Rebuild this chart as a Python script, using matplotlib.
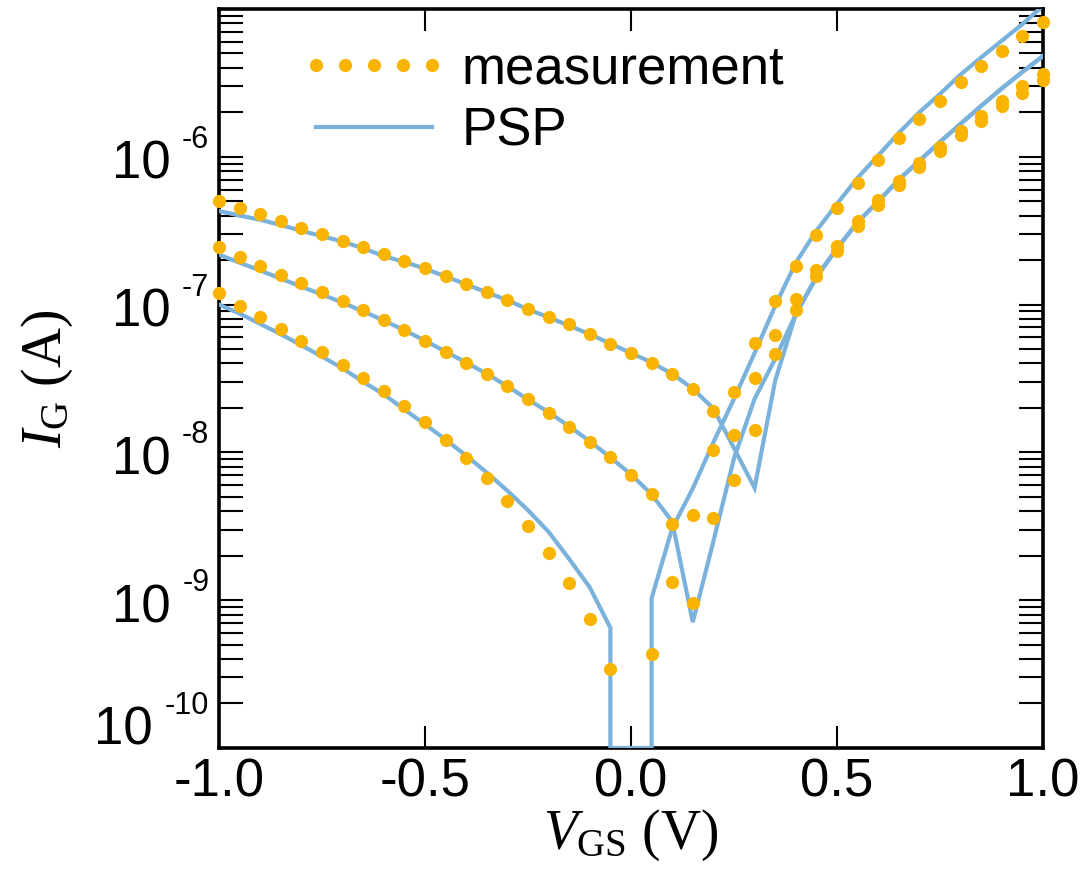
import numpy as np
import matplotlib
matplotlib.use('Agg')
import matplotlib.pyplot as plt
from matplotlib.ticker import MultipleLocator, FormatStrFormatter, LogLocator, NullFormatter
from matplotlib.legend_handler import HandlerLine2D

plt.rcParams['font.family'] = ['Liberation Sans', 'DejaVu Sans']
plt.rcParams['axes.unicode_minus'] = False
plt.rcParams['mathtext.fontset'] = 'custom'
plt.rcParams['mathtext.rm'] = 'Liberation Serif'
plt.rcParams['mathtext.it'] = 'Liberation Serif:italic'

# gate voltage sweep (V)
vgs = [-1.00, -0.95, -0.90, -0.85, -0.80, -0.75, -0.70, -0.65, -0.60, -0.55,
       -0.50, -0.45, -0.40, -0.35, -0.30, -0.25, -0.20, -0.15, -0.10, -0.05,
       0.00, 0.05, 0.10, 0.15, 0.20, 0.25, 0.30, 0.35, 0.40, 0.45,
       0.50, 0.55, 0.60, 0.65, 0.70, 0.75, 0.80, 0.85, 0.90, 0.95, 1.00]

# measured |I_G| (A), three bias conditions
meas_a = [5.0e-7, 4.5e-7, 4.1e-7, 3.7e-7, 3.3e-7, 3.0e-7, 2.7e-7, 2.45e-7, 2.2e-7, 1.97e-7,
          1.76e-7, 1.56e-7, 1.37e-7, 1.22e-7, 1.07e-7, 9.4e-8, 8.3e-8, 7.4e-8, 6.3e-8, 5.4e-8,
          4.7e-8, 4.0e-8, 3.4e-8, 2.7e-8, 1.9e-8, 6.5e-9, 1.42e-8, 4.6e-8, 9.2e-8, 1.55e-7,
          2.3e-7, 3.4e-7, 4.7e-7, 6.4e-7, 8.5e-7, 1.1e-6, 1.4e-6, 1.75e-6, 2.2e-6, 2.7e-6, 3.3e-6]
meas_b = [2.44e-7, 2.1e-7, 1.82e-7, 1.59e-7, 1.39e-7, 1.21e-7, 1.05e-7, 9.2e-8, 7.9e-8, 6.7e-8,
          5.7e-8, 4.8e-8, 4.0e-8, 3.4e-8, 2.8e-8, 2.3e-8, 1.84e-8, 1.48e-8, 1.17e-8, 9.3e-9,
          7.0e-9, 5.2e-9, 3.3e-9, 9.5e-10, 3.6e-9, 1.32e-8, 3.2e-8, 6.2e-8, 1.09e-7, 1.71e-7,
          2.5e-7, 3.65e-7, 5.1e-7, 6.9e-7, 9.1e-7, 1.17e-6, 1.5e-6, 1.9e-6, 2.4e-6, 3.0e-6, 3.65e-6]
meas_c = [1.19e-7, 9.8e-8, 8.3e-8, 6.85e-8, 5.7e-8, 4.8e-8, 3.9e-8, 3.2e-8, 2.6e-8, 2.05e-8,
          1.6e-8, 1.22e-8, 9.1e-9, 6.7e-9, 4.7e-9, 3.2e-9, 2.1e-9, 1.31e-9, 7.5e-10, 3.4e-10,
          np.nan, 4.3e-10, 1.32e-9, 3.75e-9, 1.03e-8, 2.55e-8, 5.5e-8, 1.05e-7, 1.82e-7, 2.96e-7,
          4.5e-7, 6.6e-7, 9.5e-7, 1.33e-6, 1.8e-6, 2.4e-6, 3.2e-6, 4.1e-6, 5.2e-6, 6.6e-6, 8.2e-6]

# PSP model |I_G| (A)
psp_a = [4.3e-7, 4.0e-7, 3.75e-7, 3.45e-7, 3.16e-7, 2.9e-7, 2.67e-7, 2.4e-7, 2.13e-7, 1.94e-7,
         1.75e-7, 1.55e-7, 1.37e-7, 1.21e-7, 1.07e-7, 9.3e-8, 8.2e-8, 7.2e-8, 6.3e-8, 5.45e-8,
         4.7e-8, 4.06e-8, 3.4e-8, 2.7e-8, 1.98e-8, 1.07e-8, 5.75e-9, 3.06e-8, 8.6e-8, 1.52e-7,
         2.4e-7, 3.6e-7, 5.0e-7, 7.0e-7, 9.4e-7, 1.26e-6, 1.67e-6, 2.21e-6, 2.9e-6, 3.75e-6, 4.8e-6]
psp_b = [2.18e-7, 1.92e-7, 1.7e-7, 1.5e-7, 1.32e-7, 1.17e-7, 1.03e-7, 9.0e-8, 7.8e-8, 6.7e-8,
         5.7e-8, 4.8e-8, 4.06e-8, 3.4e-8, 2.8e-8, 2.28e-8, 1.87e-8, 1.5e-8, 1.19e-8, 9.25e-9,
         7.1e-9, 5.2e-9, 3.4e-9, 7.1e-10, 2.5e-9, 9.1e-9, 2.3e-8, 4.3e-8, 8.6e-8, 1.55e-7,
         2.4e-7, 3.6e-7, 5.0e-7, 7.0e-7, 9.4e-7, 1.26e-6, 1.67e-6, 2.21e-6, 2.9e-6, 3.75e-6, 4.8e-6]
psp_c = [1.0e-7, 8.7e-8, 7.4e-8, 6.3e-8, 5.3e-8, 4.45e-8, 3.7e-8, 3.0e-8, 2.47e-8, 1.95e-8,
         1.55e-8, 1.22e-8, 9.5e-9, 7.3e-9, 5.5e-9, 4.06e-9, 2.9e-9, 1.9e-9, 1.22e-9, 6.5e-10,
         0.0, 1.03e-9, 3.06e-9, 5.7e-9, 1.17e-8, 2.3e-8, 4.7e-8, 9.8e-8, 1.92e-7, 3.16e-7,
         4.8e-7, 7.2e-7, 1.02e-6, 1.45e-6, 2.0e-6, 2.66e-6, 3.6e-6, 4.7e-6, 6.1e-6, 7.9e-6, 1.05e-5]

decades = [1e-10, 1e-9, 1e-8, 1e-7, 1e-6]
y_lo, y_hi = 1e-10, 1e-5

ORANGE = '#F8B400'
BLUE = '#7BB2DC'


def drop_to_floor(v, i, floor):
    # points without a positive current are drawn along the bottom edge
    xs, ys = [], []
    for k, (x, y) in enumerate(zip(v, i)):
        if y > 0:
            xs.append(x)
            ys.append(y)
        else:
            xs += [v[k - 1], v[k + 1]]
            ys += [floor, floor]
    return xs, ys


fig = plt.figure(figsize=(10.88, 8.73), dpi=100)
fig.subplots_adjust(left=0.2013, right=0.9586, bottom=0.1432, top=0.9897)
ax = fig.add_subplot(111)
ax.set_yscale('log')

psp_lines = []
for psp in [psp_a, psp_b, psp_c]:
    x, y = drop_to_floor(vgs, psp, y_lo)
    ln, = ax.plot(x, y, color=BLUE, lw=3.0, solid_joinstyle='miter', zorder=3)
    psp_lines.append(ln)

dots = []
for meas in [meas_a, meas_b, meas_c]:
    d, = ax.plot(vgs, np.array(meas, dtype=float), 'o', color=ORANGE, ms=9.5, mew=0,
                 clip_on=False, zorder=4)
    dots.append(d)

ax.set_xlim(-1, 1)
ax.set_ylim(y_lo, y_hi)

ax.xaxis.set_major_locator(MultipleLocator(0.5))
ax.xaxis.set_major_formatter(FormatStrFormatter('%.1f'))
ax.yaxis.set_major_locator(LogLocator(base=10, numticks=12))
ax.yaxis.set_minor_locator(LogLocator(base=10, subs=np.arange(2, 10), numticks=12))
ax.yaxis.set_minor_formatter(NullFormatter())

ax.tick_params(which='both', direction='in', top=True, right=True, width=1.5)
ax.tick_params(axis='x', length=16, labelsize=38, pad=7)
ax.tick_params(axis='y', which='both', length=17, labelleft=False)
for sp in ax.spines.values():
    sp.set_linewidth(2.6)

# decade labels: "10" with a raised exponent
for dec in decades:
    lift = 18 if dec == y_lo else 0
    expo = ax.annotate(str(int(round(np.log10(dec)))), xy=(0, dec),
                       xycoords=('axes fraction', 'data'),
                       xytext=(-7, 6.5 + lift), textcoords='offset points',
                       ha='right', va='baseline', fontsize=22, annotation_clip=False)
    ax.annotate('10', xy=(0, dec), xycoords=(expo, 'data'),
                xytext=(-8.5, -15.8 + lift), textcoords='offset points',
                ha='right', va='baseline', fontsize=38, annotation_clip=False)

ax.set_xlabel(r'$V_{\mathrm{GS}}$ (V)', fontsize=40, family='Liberation Serif', labelpad=0)
ax.set_ylabel(r'$I_{\mathrm{G}}$ (A)', fontsize=40, family='Liberation Serif')
ax.yaxis.set_label_coords(-0.175, 0.5)

ax.legend(handles=[dots[0], psp_lines[0]], labels=['measurement', 'PSP'],
          loc='upper left', bbox_to_anchor=(0.118, 0.952), frameon=False,
          fontsize=38, handlelength=2.2, handletextpad=0.55, labelspacing=0.22,
          borderpad=0, borderaxespad=0,
          handler_map={dots[0]: HandlerLine2D(numpoints=5, marker_pad=0)})

fig.savefig('out.png', dpi=100)
